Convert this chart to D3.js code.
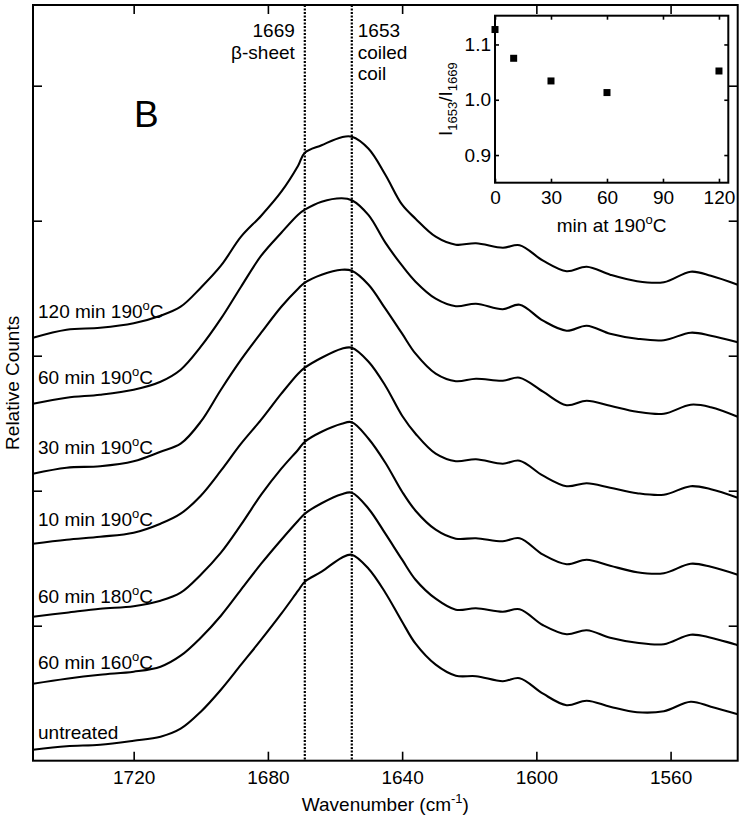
<!DOCTYPE html>
<html>
<head>
<meta charset="utf-8">
<script src="https://cdn.jsdelivr.net/npm/d3@7"></script>
<style>
  body { margin: 0; background: #fff; }
  svg { display: block; font-family: "Liberation Sans", Arial, Helvetica, sans-serif; }
</style>
</head>
<body>
<svg id="chart" width="745" height="820"></svg>
<script>
// ----- data -----
const wavenumbers = [1750, 1740, 1730, 1720, 1712, 1706, 1700, 1694, 1688, 1682, 1676,
  1671, 1669, 1664, 1658, 1655, 1650, 1645, 1640, 1636, 1630, 1624, 1618, 1610, 1605,
  1598, 1591, 1585, 1578, 1570, 1562, 1554, 1548, 1540];

// relative counts (arbitrary units, traces already offset as in the figure)
const counts120min190 = [423, 431, 433, 437.5, 445, 454, 473, 495, 524, 545, 569, 595, 608, 615.5, 623.5, 624,
  612, 586, 556, 542, 524, 516, 517.5, 513, 515.5, 500, 489.5, 494, 486, 479.5, 478.5, 489, 485, 476];
const counts60min190 = [357, 363, 366, 371, 379, 391, 414, 442, 474, 505, 528, 546, 551, 559, 562.5, 560.5,
  545.5, 518, 495, 479, 462, 454.5, 457, 451.5, 456, 440, 430, 435, 427, 422, 420.5, 428, 425, 418.5];
const counts30min190 = [287, 293, 294.5, 299.5, 309, 317, 339, 371, 401, 428, 454, 472, 478, 486, 491, 490,
  476, 452, 427, 407, 387, 379.5, 382, 380, 383, 369, 355.5, 360, 355, 349, 347, 356, 353.5, 344];
const counts10min190 = [217, 221, 224, 228, 237, 247, 265, 290, 317, 341, 367, 387, 393, 403, 412, 413,
  399, 375, 345, 327, 307, 299.5, 301.5, 297, 300, 285, 274.5, 277.5, 273, 267.5, 266, 274.5, 271.5, 263];
const counts60min180 = [144, 148, 152, 154.5, 160, 168, 186, 208, 236, 266, 292, 311, 319, 329, 337, 338.5,
  322, 298, 269, 250, 231, 222, 222.5, 219.5, 222.5, 206, 196.5, 201, 195, 188.5, 187.5, 197, 194, 186];
const counts60min160 = [77, 82, 86, 89, 94, 105, 123, 145, 171, 197, 221, 240, 247, 257.5, 266.5, 268,
  252, 227, 201, 181, 162, 151, 152.5, 149, 151.5, 135.5, 126.5, 130.5, 123, 118, 116.5, 126, 123, 115.5];
const countsUntreated = [11, 14.5, 16, 20, 24, 32, 49, 71, 96, 121, 147, 170, 179, 189, 203, 206,
  192, 168, 139, 117, 96, 85, 84.5, 79.5, 82.5, 67, 55.5, 60, 54, 48.5, 49.5, 59, 54, 46.5];

const traceLabels = ["120 min 190°C", "60 min 190°C", "30 min 190°C", "10 min 190°C",
  "60 min 180°C", "60 min 160°C", "untreated"];
const traces = [counts120min190, counts60min190, counts30min190, counts10min190,
  counts60min180, counts60min160, countsUntreated];

const xTicks = [1720, 1680, 1640, 1600, 1560];
const yTicks = [135, 270, 405, 540, 675];

// band markers (dotted lines) and their annotations
const bandPositions = [1669, 1655];
const bandLabels = [["1669", "β-sheet"], ["1653", "coiled", "coil"]];

// inset: intensity ratio vs time at 190 C
const insetMinutes = [0, 10, 30, 60, 120];
const insetRatio = [1.127, 1.075, 1.034, 1.013, 1.052];
const insetXTicks = [0, 30, 60, 90, 120];
const insetYTicks = [0.9, 1.0, 1.1];

// ----- layout -----
const svg = d3.select("#chart");
const frame = { left: 33, right: 737.7, top: 5, bottom: 760.7 };
const inset = { left: 495, right: 728.3, top: 15.7, bottom: 182.7 };
const FONT = 19;

const x = d3.scaleLinear().domain([1750, 1540]).range([frame.left, frame.right]);
const y = d3.scaleLinear().domain([0, 755.7]).range([frame.bottom, frame.top]);

function styleAxis(g) {
  g.select(".domain").remove();
  g.selectAll(".tick line").attr("stroke", "#000").attr("stroke-width", 1.6);
  g.selectAll(".tick text").attr("fill", "#000").attr("font-size", FONT)
    .attr("font-family", "Liberation Sans, Arial, sans-serif");
}

// ----- traces -----
const line = d3.line()
  .x((d, i) => x(wavenumbers[i]))
  .y(d => y(d))
  .curve(d3.curveCatmullRom.alpha(0.5));

svg.append("g").selectAll("path")
  .data(traces)
  .enter()
  .append("path")
  .attr("d", d => line(d))
  .attr("fill", "none")
  .attr("stroke", "#000")
  .attr("stroke-width", 2.1)
  .attr("stroke-linejoin", "round");

// dotted band lines
svg.append("g").selectAll("line")
  .data(bandPositions)
  .enter()
  .append("line")
  .attr("x1", d => x(d)).attr("x2", d => x(d))
  .attr("y1", frame.top).attr("y2", frame.bottom)
  .attr("stroke", "#000")
  .attr("stroke-width", 2.2)
  .attr("stroke-dasharray", "2,1.5");

// ----- main axes (ticks inward on all four sides) -----
svg.append("g")
  .attr("transform", `translate(0,${frame.bottom})`)
  .call(d3.axisBottom(x).tickValues(xTicks).tickSizeInner(-9).tickSizeOuter(0)
    .tickPadding(10).tickFormat(d3.format("d")))
  .call(styleAxis);
svg.append("g")
  .attr("transform", `translate(0,${frame.top})`)
  .call(d3.axisTop(x).tickValues(xTicks).tickSizeInner(-9).tickSizeOuter(0).tickFormat(""))
  .call(styleAxis);
svg.append("g")
  .attr("transform", `translate(${frame.left},0)`)
  .call(d3.axisLeft(y).tickValues(yTicks).tickSizeInner(-9).tickSizeOuter(0).tickFormat(""))
  .call(styleAxis);
svg.append("g")
  .attr("transform", `translate(${frame.right},0)`)
  .call(d3.axisRight(y).tickValues(yTicks).tickSizeInner(-9).tickSizeOuter(0).tickFormat(""))
  .call(styleAxis);

svg.append("rect")
  .attr("x", frame.left).attr("y", frame.top)
  .attr("width", frame.right - frame.left).attr("height", frame.bottom - frame.top)
  .attr("fill", "none").attr("stroke", "#000").attr("stroke-width", 2);

// axis titles
const xTitle = svg.append("text")
  .attr("x", (frame.left + frame.right) / 2).attr("y", 811)
  .attr("text-anchor", "middle").attr("font-size", FONT);
xTitle.append("tspan").text("Wavenumber (cm");
xTitle.append("tspan").attr("font-size", 13).attr("dy", -8).text("-1");
xTitle.append("tspan").attr("dy", 8).text(")");

svg.append("text")
  .attr("transform", `translate(19,${(frame.top + frame.bottom) / 2}) rotate(-90)`)
  .attr("text-anchor", "middle").attr("font-size", FONT)
  .text("Relative Counts");

// panel letter
svg.append("text").attr("x", 134).attr("y", 127).attr("font-size", 37).text("B");

// ----- trace labels -----
const i1712 = wavenumbers.indexOf(1712);
traces.forEach((tr, k) => {
  const t = svg.append("text")
    .attr("x", x(1750) + 5)
    .attr("y", y(tr[i1712]) + 2)
    .attr("font-size", FONT);
  const parts = traceLabels[k].split("°");
  t.append("tspan").text(parts[0]);
  if (parts.length > 1) {
    t.append("tspan").attr("font-size", 13).attr("dy", -8).text("o");
    t.append("tspan").attr("dy", 8).text(parts[1]);
  }
});

// ----- band annotations -----
bandLabels[0].forEach((s, i) => {
  svg.append("text")
    .attr("x", x(bandPositions[0]) - 10).attr("y", 37 + i * 22)
    .attr("text-anchor", "end").attr("font-size", FONT).text(s);
});
bandLabels[1].forEach((s, i) => {
  svg.append("text")
    .attr("x", x(bandPositions[1]) + 6).attr("y", 37 + i * 21.7)
    .attr("text-anchor", "start").attr("font-size", FONT).text(s);
});

// ----- inset -----
const ix = d3.scaleLinear().domain([0, 125]).range([inset.left, inset.right]);
const iy = d3.scaleLinear().domain([0.85, 1.152]).range([inset.bottom, inset.top]);

svg.append("rect")
  .attr("x", inset.left).attr("y", inset.top)
  .attr("width", inset.right - inset.left).attr("height", inset.bottom - inset.top)
  .attr("fill", "#fff");

svg.append("g")
  .attr("transform", `translate(0,${inset.bottom})`)
  .call(d3.axisBottom(ix).tickValues(insetXTicks).tickSizeInner(-4).tickSizeOuter(0).tickPadding(8))
  .call(styleAxis);
svg.append("g")
  .attr("transform", `translate(0,${inset.top})`)
  .call(d3.axisTop(ix).tickValues(insetXTicks).tickSizeInner(-4).tickSizeOuter(0).tickFormat(""))
  .call(styleAxis);
svg.append("g")
  .attr("transform", `translate(${inset.left},0)`)
  .call(d3.axisLeft(iy).tickValues(insetYTicks).tickSizeInner(-4).tickSizeOuter(0)
    .tickPadding(4).tickFormat(d3.format(".1f")))
  .call(styleAxis);
svg.append("g")
  .attr("transform", `translate(${inset.right},0)`)
  .call(d3.axisRight(iy).tickValues(insetYTicks).tickSizeInner(-4).tickSizeOuter(0).tickFormat(""))
  .call(styleAxis);

svg.append("rect")
  .attr("x", inset.left).attr("y", inset.top)
  .attr("width", inset.right - inset.left).attr("height", inset.bottom - inset.top)
  .attr("fill", "none").attr("stroke", "#000").attr("stroke-width", 2);

svg.append("g").selectAll("rect")
  .data(insetMinutes)
  .enter()
  .append("rect")
  .attr("x", (d) => ix(d) - 3.5)
  .attr("y", (d, i) => iy(insetRatio[i]) - 3.5)
  .attr("width", 7).attr("height", 7)
  .attr("fill", "#000");

const ixTitle = svg.append("text")
  .attr("x", (inset.left + inset.right) / 2).attr("y", 232)
  .attr("text-anchor", "middle").attr("font-size", FONT);
ixTitle.append("tspan").text("min at 190");
ixTitle.append("tspan").attr("font-size", 13).attr("dy", -8).text("o");
ixTitle.append("tspan").attr("dy", 8).text("C");

const iyTitle = svg.append("text")
  .attr("transform", `translate(452,${(inset.top + inset.bottom) / 2}) rotate(-90)`)
  .attr("text-anchor", "middle").attr("font-size", FONT);
iyTitle.append("tspan").text("I");
iyTitle.append("tspan").attr("font-size", 13).attr("dy", 5).text("1653");
iyTitle.append("tspan").attr("dy", -5).text("/I");
iyTitle.append("tspan").attr("font-size", 13).attr("dy", 5).text("1669");
</script>
</body>
</html>
